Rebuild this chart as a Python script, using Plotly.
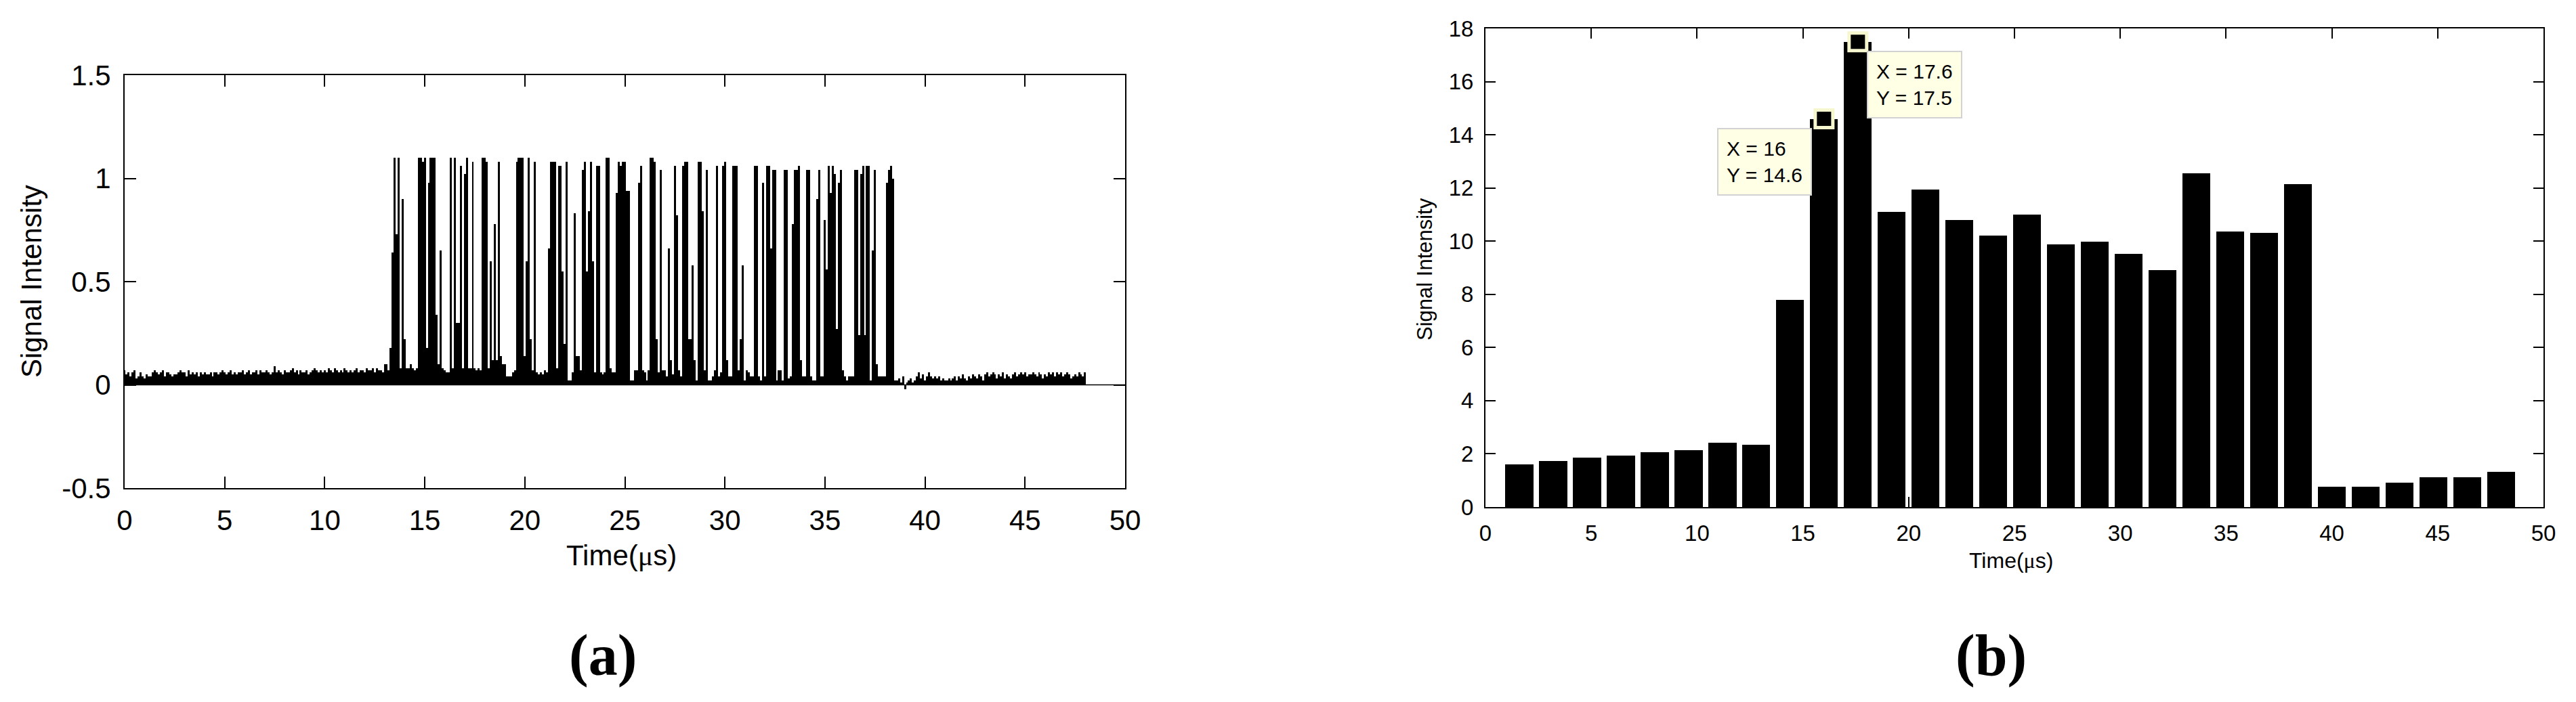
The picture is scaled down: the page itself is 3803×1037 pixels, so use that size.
import plotly.graph_objects as go

W, H = 3803, 1037
PAGE_MARGIN = 8  # default <body> margin of the written page

# ---------------- data ----------------
# (a) raw signal, sampled every 0.1 us, values in hundredths of intensity units
SAMPLE_STEP_US = 0.1
pre_burst = [
    7, 5, 6, 4, 6, 7, 3, 4, 6, 4,
    3, 5, 4, 4, 6, 7, 6, 5, 6, 7,
    4, 6, 6, 5, 4, 5, 5, 6, 7, 6,
    6, 4, 7, 5, 6, 5, 6, 4, 6, 5,
    6, 5, 5, 6, 4, 6, 6, 5, 6, 7,
    6, 5, 6, 7, 5, 6, 5, 6, 6, 7,
    5, 6, 7, 5, 6, 6, 7, 5, 7, 6,
    6, 7, 6, 5, 6, 9, 6, 7, 6, 5,
    7, 6, 6, 7, 8, 6, 7, 5, 7, 6,
    6, 7, 5, 6, 7, 8, 7, 6, 7, 6,
    7, 6, 8, 7, 6, 8, 7, 6, 7, 6,
    8, 7, 6, 7, 6, 7, 8, 6, 7, 7,
    6, 8, 7, 7, 8, 6, 8, 7,
]
burst = [
    7, 6, 10, 10, 7, 18, 64, 110, 73, 110,
    8, 90, 22, 8, 8, 10, 8, 7, 8, 110,
    110, 108, 110, 18, 98, 110, 110, 110, 34, 10,
    65, 8, 7, 6, 6, 110, 8, 110, 30, 30,
    106, 8, 102, 110, 8, 8, 108, 8, 7, 8,
    7, 110, 110, 108, 8, 60, 12, 78, 12, 108,
    14, 10, 10, 4, 4, 4, 6, 7, 108, 110,
    110, 110, 14, 60, 110, 22, 7, 108, 6, 5,
    6, 5, 7, 6, 66, 108, 108, 108, 8, 106,
    106, 55, 20, 108, 2, 2, 6, 83, 14, 14,
    7, 104, 108, 55, 84, 108, 60, 6, 106, 106,
    6, 5, 6, 110, 110, 8, 6, 6, 93, 108,
    106, 108, 108, 94, 94, 2, 2, 7, 7, 98,
    106, 7, 6, 2, 7, 110, 110, 108, 22, 6,
    104, 7, 7, 4, 66, 12, 5, 106, 82, 7,
    4, 106, 108, 108, 22, 22, 58, 12, 2, 108,
    108, 84, 7, 104, 2, 2, 4, 7, 106, 4,
    6, 106, 108, 12, 4, 4, 106, 106, 106, 7,
    22, 58, 2, 7, 6, 4, 4, 106, 106, 4,
    2, 98, 4, 106, 106, 66, 104, 104, 2, 7,
    7, 2, 104, 104, 3, 4, 78, 104, 104, 106,
    12, 4, 4, 104, 104, 4, 2, 2, 90, 104,
    4, 4, 80, 56, 106, 93, 106, 102, 27, 98,
    104, 7, 4, 2, 4, 4, 4, 104, 104, 24,
    102, 106, 24, 106, 106, 2, 65, 104, 10, 4,
    4, 4, 4, 98, 104, 106, 100, 2,
]
post_burst = [
    2, 3, 1, 4, -2, 1, 2, 3, 1, 2,
    4, 6, 3, 5, 2, 4, 6, 4, 3, 4,
    3, 4, 2, 3, 2, 2, 3, 2, 3, 4,
    2, 4, 3, 5, 3, 2, 4, 3, 5, 4,
    3, 5, 4, 2, 5, 6, 4, 5, 6, 5,
    3, 5, 4, 6, 3, 5, 4, 3, 5, 6,
    4, 5, 6, 5, 6, 4, 5, 5, 6, 5,
    4, 6, 5, 3, 5, 4, 6, 5, 6, 4,
    6, 5, 6, 4, 5, 6, 5, 3, 4, 5,
    4, 6, 5, 4, 6,
]

# (b) integrated intensity per 1.6 us bin
bin_time_us = [1.6, 3.2, 4.8, 6.4, 8.0, 9.6, 11.2, 12.8, 14.4, 16.0,
               17.6, 19.2, 20.8, 22.4, 24.0, 25.6, 27.2, 28.8, 30.4, 32.0,
               33.6, 35.2, 36.8, 38.4, 40.0, 41.6, 43.2, 44.8, 46.4, 48.0]
bin_intensity = [1.60, 1.74, 1.85, 1.94, 2.06, 2.14, 2.43, 2.33, 7.80, 14.6,
                 17.5, 11.09, 11.93, 10.79, 10.2, 10.99, 9.88, 9.99, 9.52, 8.92,
                 12.54, 10.35, 10.30, 12.14, 0.76, 0.76, 0.91, 1.11, 1.11, 1.33]
tip_indices = [9, 10]

x_tick_vals = [0, 5, 10, 15, 20, 25, 30, 35, 40, 45, 50]
a_y_tick_vals = [-0.5, 0, 0.5, 1, 1.5]
a_y_tick_text = ["-0.5", "0", "0.5", "1", "1.5"]
b_y_tick_vals = [0, 2, 4, 6, 8, 10, 12, 14, 16, 18]

# ---------------- helpers ----------------
FW, FH = W - 2 * PAGE_MARGIN, H - 2 * PAGE_MARGIN


def px_x(p):
    return (p - PAGE_MARGIN) / FW


def px_y(p):
    return 1 - (p - PAGE_MARGIN) / FH


signal = [v / 100 for v in pre_burst + burst + post_burst]
signal_t = [round(i * SAMPLE_STEP_US, 1) for i in range(len(signal))]

SANS = "Liberation Sans"
SERIF = "Liberation Serif"


def axis(domain, rng, tickvals, ticktext, fsize, ticklen, anchor, standoff):
    return dict(
        domain=domain, range=rng, anchor=anchor, automargin=False,
        tickmode="array", tickvals=tickvals, ticktext=ticktext,
        ticks="inside", ticklen=ticklen, tickwidth=2, tickcolor="black",
        showline=True, linecolor="black", linewidth=2, mirror="ticks",
        showgrid=False, zeroline=False, fixedrange=True,
        ticklabelstandoff=standoff,
        tickfont=dict(family=SANS, size=fsize, color="black"),
    )


fig = go.Figure()

# (a) raw signal
fig.add_trace(go.Bar(
    x=signal_t, y=signal, width=0.1,
    marker=dict(color="black", line=dict(width=0)),
    xaxis="x", yaxis="y", showlegend=False,
))

# (b) binned intensity
fig.add_trace(go.Bar(
    x=bin_time_us, y=bin_intensity, width=1.32,
    marker=dict(color="black", line=dict(width=0)),
    xaxis="x2", yaxis="y2", showlegend=False,
))

# data-tip markers
fig.add_trace(go.Scatter(
    x=[bin_time_us[i] for i in tip_indices],
    y=[bin_intensity[i] for i in tip_indices],
    mode="markers",
    marker=dict(symbol="square", size=26, color="black",
                line=dict(color="#F6F6CF", width=5)),
    xaxis="x2", yaxis="y2", showlegend=False, cliponaxis=False,
))

fig.update_layout(
    template="none",
    width=FW, height=FH, autosize=False,
    margin=dict(l=0, r=0, t=0, b=0, pad=0),
    paper_bgcolor="white", plot_bgcolor="white",
    bargap=0,
    xaxis=axis([px_x(184), px_x(1661)], [0, 50], x_tick_vals,
               [str(v) for v in x_tick_vals], 42, 17, "y", 10),
    yaxis=axis([px_y(721), px_y(111)], [-0.5, 1.5], a_y_tick_vals,
               a_y_tick_text, 42, 17, "x", 10),
    xaxis2=axis([px_x(2193), px_x(3755)], [0, 50], x_tick_vals,
                [str(v) for v in x_tick_vals], 33, 15, "y2", 8),
    yaxis2=axis([px_y(749), px_y(42)], [0, 18], b_y_tick_vals,
                [str(v) for v in b_y_tick_vals], 33, 15, "x2", 9),
)

# baseline of panel (a)
fig.add_shape(type="line", xref="x domain", yref="y", x0=0, x1=1, y0=0, y1=0,
              line=dict(color="black", width=1.5))

mu_label = "Time(<span style='font-family:%s'>μ</span>s)" % SERIF

ann = [
    # panel (a) titles
    dict(x=px_x(46), y=px_y(416), text="Signal Intensity", textangle=-90,
         font=dict(family=SANS, size=42, color="black")),
    dict(x=px_x(917), y=px_y(820), text=mu_label,
         font=dict(family=SANS, size=42, color="black")),
    dict(x=px_x(890), y=px_y(968), text="<b>(a)</b>",
         font=dict(family=SERIF, size=86, color="black")),
    # panel (b) titles
    dict(x=px_x(2104), y=px_y(398), text="Signal Intensity", textangle=-90,
         font=dict(family=SANS, size=31, color="black")),
    dict(x=px_x(2969), y=px_y(828), text=mu_label,
         font=dict(family=SANS, size=32, color="black")),
    dict(x=px_x(2939), y=px_y(968), text="<b>(b)</b>",
         font=dict(family=SERIF, size=86, color="black")),
]
for a in ann:
    a.update(xref="paper", yref="paper", showarrow=False,
             xanchor="center", yanchor="middle")

# data tips
tip_side = ["right", "left"]
tip_shift = [-18, 13]
for k, i in enumerate(tip_indices):
    ann.append(dict(
        xref="x2", yref="y2", x=bin_time_us[i], y=bin_intensity[i],
        text="X = %g<br>Y = %.1f" % (bin_time_us[i], bin_intensity[i]),
        showarrow=False, xanchor=tip_side[k], yanchor="top",
        xshift=tip_shift[k], yshift=-13, align="left",
        bgcolor="#FFFFE6", bordercolor="#D2D2D2", borderwidth=2, borderpad=12,
        font=dict(family=SANS, size=30, color="black"),
    ))

fig.update_layout(annotations=ann)

fig.write_html("out.html")
